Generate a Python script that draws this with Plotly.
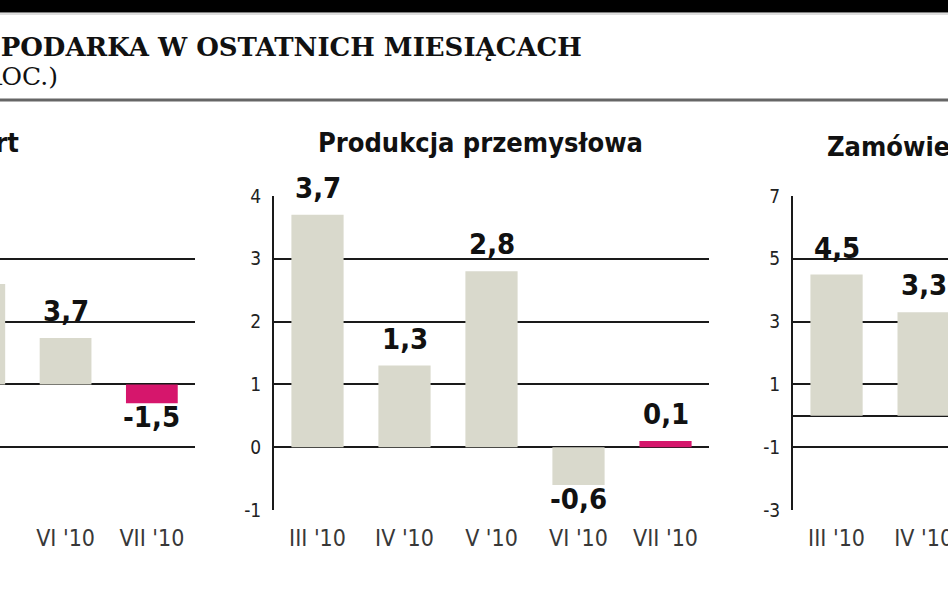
import plotly.graph_objects as go

W, H = 948, 593

months = ["III '10", "IV '10", "V '10", "VI '10", "VII '10"]
# values that lie outside the visible crop are unknown -> None
eksport = [None, None, 8.0, 3.7, -1.5]
produkcja = [3.7, 1.3, 2.8, -0.6, 0.1]
zamowienia = [4.5, 3.3, None, None, None]

ticks_eksport = [-10, -5, 0, 5, 10, 15]
ticks_produkcja = [-1, 0, 1, 2, 3, 4]
ticks_zamowienia = [-3, -1, 1, 3, 5, 7]

main_title = "GOSPODARKA W OSTATNICH MIESIĄCACH"
sub_title = "(DYNAMIKA R/R, W PROC.)"
panel_titles = ["Eksport", "Produkcja przemysłowa", "Zamówienia w przemyśle"]

BAR = "#d9d9cc"
HL = "#d6166c"
GRID = "#1a1a1a"
COND = "DejaVu Sans Condensed, Liberation Sans Narrow, DejaVu Sans"


def px(x):
    return x / W


def py(y):
    return 1 - y / H


def colors(vals):
    return [HL if i == len(vals) - 1 else BAR for i in range(len(vals))]


def fmt(v):
    return f"{v:.1f}".replace(".", ",")


def tick_text(vals):
    return [str(v) for v in vals]


fig = go.Figure()
series = [eksport, produkcja, zamowienia]
ann = []
for i, vals in enumerate(series):
    xa = "x" if i == 0 else f"x{i+1}"
    ya = "y" if i == 0 else f"y{i+1}"
    fig.add_trace(go.Bar(
        x=months, y=vals, marker=dict(color=colors(vals), line=dict(width=0)),
        width=0.6, cliponaxis=False, showlegend=False, hoverinfo="skip",
        xaxis=xa, yaxis=ya,
    ))
    for m, v in zip(months, vals):
        if v is None:
            continue
        ann.append(dict(
            text=fmt(v), x=m, y=v, xref=xa, yref=ya, showarrow=False,
            yanchor="bottom" if v >= 0 else "top",
            yshift=8 if v >= 0 else 5,
            font=dict(family=COND, size=29, color="#111", weight="bold"),
        ))

ydom = [py(510), py(196)]
common_x = dict(type="category", showgrid=False, zeroline=False, automargin=False,
                tickfont=dict(family=COND, size=23, color="#383838"),
                ticks="outside", ticklen=7, tickcolor="rgba(0,0,0,0)",
                showline=False, fixedrange=True)
common_y = dict(showgrid=True, gridcolor=GRID, gridwidth=2, automargin=False,
                tickfont=dict(family=COND, size=19, color="#222"),
                ticks="outside", ticklen=7, tickcolor="rgba(0,0,0,0)",
                fixedrange=True, domain=ydom)

fig.update_layout(
    template="none",
    width=W, height=H, margin=dict(l=0, r=0, t=0, b=0, pad=0, autoexpand=False),
    paper_bgcolor="white", plot_bgcolor="rgba(0,0,0,0)",
    bargap=0.4, showlegend=False,
    xaxis=dict(**common_x, domain=[0, px(195)], range=[2.24, 4.5], anchor="y"),
    yaxis=dict(**common_y, range=[-10, 15], tickvals=ticks_eksport,
               showticklabels=False, showline=False, zeroline=False, anchor="x"),
    xaxis2=dict(**common_x, domain=[px(274), px(709)], range=[-0.5, 4.5], anchor="y2"),
    yaxis2=dict(**common_y, range=[-1, 4], tickvals=ticks_produkcja,
                ticktext=tick_text(ticks_produkcja), showline=True, linecolor=GRID,
                linewidth=2, zeroline=False, anchor="x2"),
    xaxis3=dict(**common_x, domain=[px(793), 1], range=[-0.5, 1.28], anchor="y3"),
    yaxis3=dict(**common_y, range=[-3, 7], tickvals=ticks_zamowienia,
                ticktext=tick_text(ticks_zamowienia),
                showline=True, linecolor=GRID, linewidth=2,
                zeroline=True, zerolinecolor=GRID, zerolinewidth=2, anchor="x3"),
)

shapes = [
    dict(type="rect", xref="paper", yref="paper", x0=0, x1=1, y0=py(12.5), y1=1,
         fillcolor="#000", line=dict(width=0), layer="above"),
    dict(type="line", xref="paper", yref="paper", x0=0, x1=1, y0=py(14), y1=py(14),
         line=dict(color="#bbb", width=1)),
    dict(type="line", xref="paper", yref="paper", x0=0, x1=1, y0=py(100), y1=py(100),
         line=dict(color="#666", width=3)),
]
fig.update_layout(shapes=shapes)

titles = [
    dict(text=main_title, x=px(584), y=py(47), xanchor="right", yanchor="middle",
         font=dict(family="DejaVu Serif", size=26, color="#111", weight="bold")),
    dict(text=sub_title, x=px(60), y=py(77), xanchor="right", yanchor="middle",
         font=dict(family="DejaVu Serif", size=25, color="#111")),
    dict(text=panel_titles[0], x=px(21), y=py(142), xanchor="right", yanchor="middle",
         font=dict(family=COND, size=27, color="#111", weight="bold")),
    dict(text=panel_titles[1], x=px(481), y=py(142), xanchor="center", yanchor="middle",
         font=dict(family=COND, size=27, color="#111", weight="bold")),
    dict(text=panel_titles[2], x=px(825), y=py(146), xanchor="left", yanchor="middle",
         font=dict(family=COND, size=27, color="#111", weight="bold")),
]
for a in titles:
    a.update(xref="paper", yref="paper", showarrow=False)
fig.update_layout(annotations=titles + ann)

fig.write_html("out.html", config={"displayModeBar": False},
               post_script="document.body.style.margin='0px';")
